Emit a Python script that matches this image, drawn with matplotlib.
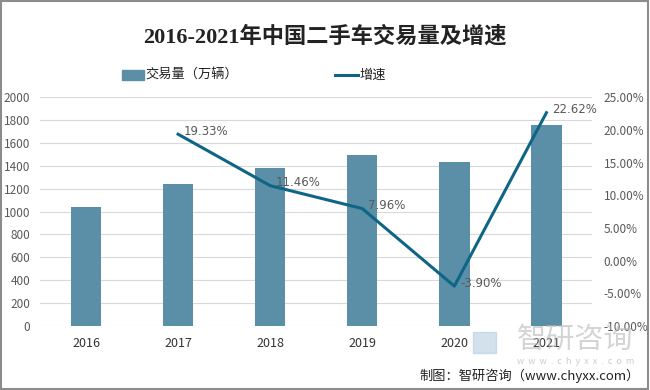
import numpy as np
import matplotlib.pyplot as plt
from matplotlib.patches import Rectangle

plt.rcParams['font.family'] = ['Noto Sans CJK SC', 'DejaVu Sans']

years = ['2016', '2017', '2018', '2019', '2020', '2021']
volume = [1039.07, 1240.07, 1382.19, 1492.28, 1434.14, 1758.51]
growth = [None, 19.33, 11.46, 7.96, -3.90, 22.62]

bar_color = '#5b8fa8'
line_color = '#0f6585'

fig = plt.figure(figsize=(6.5, 3.9), dpi=100)
ax = fig.add_axes([0.0615, 0.164, 0.850, 0.587])
x = np.arange(len(years))

ax.bar(x, volume, width=0.33, color=bar_color, zorder=2, label='交易量（万辆）')
ax.set_ylim(0, 2000)
ax.set_yticks(np.arange(0, 2001, 200))
ax.set_xlim(-0.5, len(years) - 0.5)
ax.set_xticks(x)
ax.set_xticklabels(years, fontsize=9, color='#333333')
ax.grid(axis='y', color='#d9d9d9', linewidth=0.8, zorder=0)
for s in ax.spines.values():
    s.set_visible(False)
ax.tick_params(axis='y', length=0, labelsize=8.5, labelcolor='#595959', pad=7)
ax.tick_params(axis='x', length=0, pad=8)

ax2 = ax.twinx()
gx = [i for i, g in enumerate(growth) if g is not None]
gy = [g for g in growth if g is not None]
ax2.plot(gx, gy, color=line_color, linewidth=2.2, zorder=3, label='增速')
ax2.set_ylim(-10, 25)
ax2.set_yticks(np.arange(-10, 26, 5))
ax2.set_yticklabels([f'{v:.2f}%' for v in np.arange(-10, 26, 5)])
ax2.tick_params(axis='y', length=0, labelsize=8.5, labelcolor='#595959', pad=8)
for s in ax2.spines.values():
    s.set_visible(False)
for xi, yi in zip(gx, gy):
    ax2.annotate(f'{yi:.2f}%', (xi, yi), xytext=(4, 2), textcoords='offset points',
                 fontsize=8.5, color='#595959', va='center', ha='left', family=['DejaVu Sans'])

# 标题
fig.text(0.5, 0.905, '2016-2021年中国二手车交易量及增速', ha='center', va='center',
         fontsize=16, fontweight='bold', color='#222222',
         family=['Liberation Serif', 'Noto Sans CJK SC'])

# 图例
fig.patches.append(Rectangle((0.188, 0.796), 0.033, 0.024, transform=fig.transFigure,
                             color=bar_color))
fig.text(0.224, 0.808, '交易量（万辆）', fontsize=9.5, va='center', color='#222222')
fig.lines.append(plt.Line2D([0.515, 0.55], [0.808, 0.808], transform=fig.transFigure,
                            color=line_color, linewidth=2.2))
fig.text(0.553, 0.808, '增速', fontsize=9.5, va='center', color='#222222')

# 水印
fig.text(0.885, 0.128, '智研咨询', fontsize=21, color='#b8b8b8', alpha=0.6,
         ha='center', va='center')
fig.text(0.885, 0.074, 'w  w  w  .  c  h  y  x  x  .  c  o  m', fontsize=6.5,
         color='#b8b8b8', alpha=0.7, ha='center', va='center')
fig.patches.append(Rectangle((0.728, 0.095), 0.035, 0.055, transform=fig.transFigure,
                             color='#a9c4dc', alpha=0.5))

# 来源
fig.text(0.985, 0.036, '制图：智研咨询（www.chyxx.com）', fontsize=9.5, ha='right',
         va='center', color='#222222')

# 边框
fig.patches.append(Rectangle((0.002, 0.003), 0.995, 0.994, transform=fig.transFigure,
                             fill=False, edgecolor='#8c8c8c', linewidth=1.5))

fig.savefig('out.png', dpi=100)
